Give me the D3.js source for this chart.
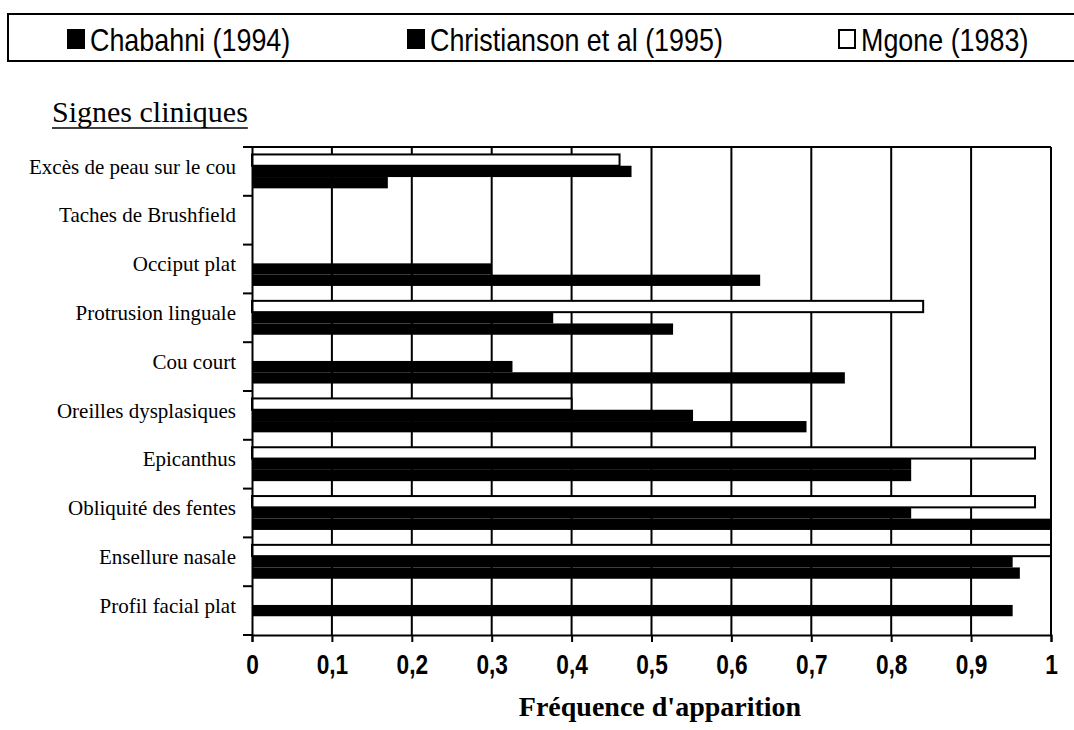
<!DOCTYPE html>
<html>
<head>
<meta charset="utf-8">
<script src="https://cdn.jsdelivr.net/npm/d3@7"></script>
<style>
  body { margin: 0; background: #fff; }
  svg { display: block; }
</style>
</head>
<body>
<svg id="chart" width="1074" height="730"></svg>
<script>
// Chart data
var categories = [
    "Excès de peau sur le cou",
    "Taches de Brushfield",
    "Occiput plat",
    "Protrusion linguale",
    "Cou court",
    "Oreilles dysplasiques",
    "Epicanthus",
    "Obliquité des fentes",
    "Ensellure nasale",
    "Profil facial plat"
];
var seriesNames = ["Chabahni (1994)", "Christianson et al (1995)", "Mgone (1983)"];
var chabahni = [0.17, 0, 0.636, 0.527, 0.742, 0.694, 0.825, 1.0, 0.961, 0];
var christianson = [0.475, 0, 0.3, 0.377, 0.326, 0.552, 0.825, 0.825, 0.952, 0.952];
var mgone = [0.46, 0, 0, 0.84, 0, 0.4, 0.98, 0.98, 1.0, 0];
var xTicks = [0, 0.1, 0.2, 0.3, 0.4, 0.5, 0.6, 0.7, 0.8, 0.9, 1];
var seriesFill = ["#000", "#000", "#fff"];

var SANS = "'Liberation Sans', Arial, sans-serif";
var SERIF = "'Liberation Serif', 'Times New Roman', serif";

var svg = d3.select("#chart");

// squeeze text horizontally to mimic a narrow face
function narrow(sel, k) {
    sel.each(function () {
        var w = this.getComputedTextLength();
        d3.select(this).attr("textLength", w * k).attr("lengthAdjust", "spacingAndGlyphs");
    });
}

//Legend box
svg.append("rect")
    .attr("x", 8).attr("y", 14)
    .attr("width", 1100).attr("height", 47)
    .attr("fill", "none").attr("stroke", "#000").attr("stroke-width", 2);

var legendX = [68, 408, 839];
var legend = svg.selectAll(".legend")
    .data(seriesNames)
    .enter().append("g")
    .attr("class", "legend")
    .attr("transform", function (d, i) { return "translate(" + legendX[i] + ",0)"; });

legend.append("rect")
    .attr("x", 0).attr("y", 30)
    .attr("width", 16).attr("height", 18)
    .attr("fill", function (d, i) { return seriesFill[i]; })
    .attr("stroke", "#000").attr("stroke-width", 2);

legend.append("text")
    .attr("x", 22).attr("y", 51)
    .attr("font-family", SANS).attr("font-size", 32)
    .text(function (d) { return d; })
    .call(narrow, 0.84);

//Section title
var title = svg.append("text")
    .attr("x", 52).attr("y", 122)
    .attr("font-family", SERIF).attr("font-size", 30)
    .text("Signes cliniques");
var tw = title.node().getComputedTextLength();
svg.append("line")
    .attr("x1", 52).attr("x2", 52 + tw)
    .attr("y1", 128).attr("y2", 128)
    .attr("stroke", "#000").attr("stroke-width", 1.5);

//Scales
var x = d3.scaleLinear().domain([0, 1]).range([252, 1051]);
var y = d3.scaleBand().domain(categories).range([147, 635]);
// inside each category: Mgone on top, then Christianson, then Chabahni
var ySub = d3.scaleBand()
    .domain([2, 1, 0])
    .range([0, y.bandwidth()])
    .paddingInner(0)
    .paddingOuter(0.66);

//Gridlines
svg.append("g")
    .selectAll("line")
    .data(xTicks.slice(1))
    .enter().append("line")
    .attr("x1", function (d) { return x(d); })
    .attr("x2", function (d) { return x(d); })
    .attr("y1", 147).attr("y2", 635)
    .attr("stroke", "#000").attr("stroke-width", 2);

//Bars
var allSeries = [chabahni, christianson, mgone];
var barData = [];
categories.forEach(function (c, ci) {
    allSeries.forEach(function (s, si) {
        if (s[ci] > 0) barData.push({ cat: c, series: si, value: s[ci] });
    });
});

svg.append("g")
    .selectAll("rect")
    .data(barData)
    .enter().append("rect")
    .attr("x", x(0))
    .attr("y", function (d) { return y(d.cat) + ySub(d.series); })
    .attr("width", function (d) { return x(d.value) - x(0); })
    .attr("height", ySub.bandwidth())
    .attr("fill", function (d) { return seriesFill[d.series]; })
    .attr("stroke", "#000")
    .attr("stroke-width", function (d) { return d.series == 2 ? 2 : 0; });

//Plot frame top
svg.append("line")
    .attr("x1", 243).attr("x2", 1051)
    .attr("y1", 147).attr("y2", 147)
    .attr("stroke", "#000").attr("stroke-width", 2);

//Bottom axis
var xAxis = svg.append("g")
    .attr("transform", "translate(0,635)")
    .call(d3.axisBottom(x).tickValues(xTicks).tickSize(7).tickFormat(function (d) {
        return String(d).replace(".", ",");
    }));
xAxis.select(".domain").attr("stroke", "#000").attr("stroke-width", 2);
xAxis.selectAll(".tick line").attr("stroke-width", 2);
xAxis.selectAll(".tick text")
    .attr("y", 39).attr("dy", 0)
    .attr("font-family", SANS).attr("font-size", 27).attr("font-weight", "bold")
    .attr("fill", "#000")
    .call(narrow, 0.84);

//Left axis
var yAxis = svg.append("g")
    .attr("transform", "translate(252,0)")
    .call(d3.axisLeft(y).tickSize(0).tickPadding(16));
yAxis.select(".domain").attr("stroke", "#000").attr("stroke-width", 2);
yAxis.selectAll(".tick text")
    .attr("dy", "0.1em")
    .attr("font-family", SERIF).attr("font-size", 21)
    .attr("fill", "#000");

// category separators on the left axis
svg.append("g")
    .selectAll("line")
    .data(categories)
    .enter().append("line")
    .attr("x1", 243).attr("x2", 252)
    .attr("y1", function (d) { return y(d) + y.bandwidth(); })
    .attr("y2", function (d) { return y(d) + y.bandwidth(); })
    .attr("stroke", "#000").attr("stroke-width", 2);

//Axis title
svg.append("text")
    .attr("x", 660).attr("y", 716)
    .attr("text-anchor", "middle")
    .attr("font-family", SERIF).attr("font-size", 28).attr("font-weight", "bold")
    .text("Fréquence d'apparition");
</script>
</body>
</html>
